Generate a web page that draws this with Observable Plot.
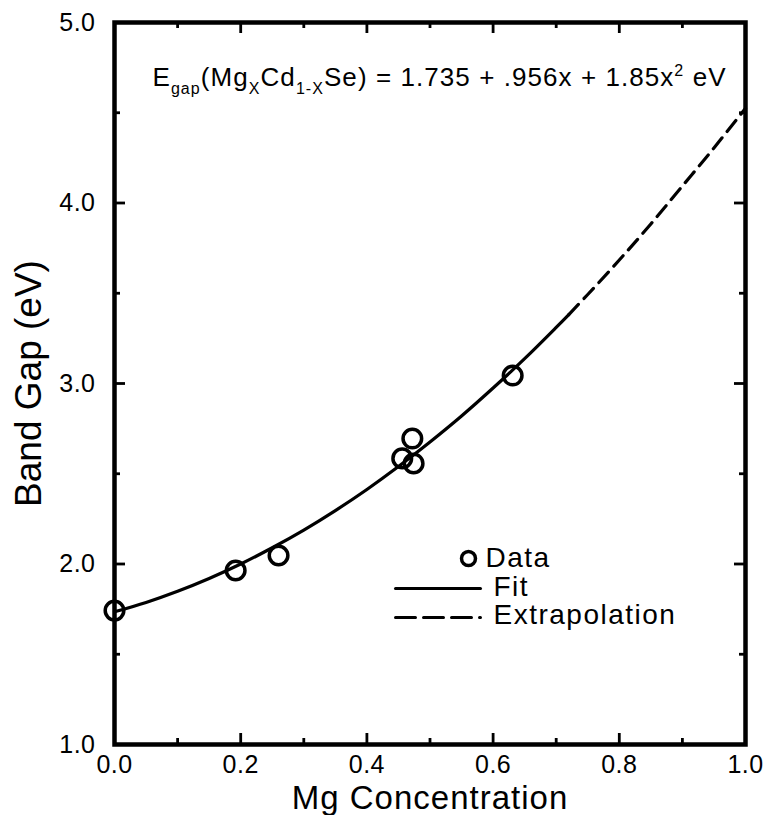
<!DOCTYPE html>
<html>
<head>
<meta charset="utf-8">
<script src="https://cdn.jsdelivr.net/npm/d3@7"></script>
<script src="https://cdn.jsdelivr.net/npm/@observablehq/plot@0.6"></script>
<style>
  html, body { margin: 0; padding: 0; background: #fff; }
</style>
</head>
<body>
<div id="chart"></div>
<script>
// ---- Data ----
const mgConc   = [0.000, 0.192, 0.260, 0.456, 0.472, 0.474, 0.631];
const bandGap  = [1.742, 1.964, 2.047, 2.585, 2.695, 2.557, 3.044];

const fitX = [0.00, 0.05, 0.10, 0.15, 0.20, 0.25, 0.30, 0.35, 0.40, 0.45, 0.50, 0.55, 0.60, 0.65, 0.70, 0.72];
const fitY = [1.735, 1.787, 1.849, 1.920, 2.000, 2.090, 2.188, 2.296, 2.413, 2.540, 2.676, 2.820, 2.975, 3.138, 3.311, 3.382];

const extX = [0.72, 0.75, 0.80, 0.85, 0.90, 0.95, 1.00];
const extY = [3.382, 3.493, 3.684, 3.884, 4.094, 4.305, 4.525];

const xMajor = [0.0, 0.2, 0.4, 0.6, 0.8, 1.0];
const xMinor = [0.1, 0.3, 0.5, 0.7, 0.9];
const yMajor = [1.0, 2.0, 3.0, 4.0, 5.0];
const yMinor = [1.5, 2.5, 3.5, 4.5];

const legendLabels = ["Data", "Fit", "Extrapolation"];
const xLabel = "Mg Concentration";
const yLabel = "Band Gap (eV)";
// equation parts: [text, 0 normal / -1 subscript / 1 superscript]
const eqParts = [["E",0],["gap",-1],["(Mg",0],["X",-1],["Cd",0],["1-X",-1],["Se) = 1.735 + .956x + 1.85x",0],["2",1],[" eV",0]];

// ---- Layout ----
const W = 763, H = 815;
const M = {top: 22, right: 18, bottom: 71, left: 114};
const innerW = W - M.left - M.right;
const innerH = H - M.top - M.bottom;
const font = "'Liberation Sans', Arial, Helvetica, sans-serif";

const dataRows = mgConc.map((x, i) => ({x, y: bandGap[i]}));
const fitRows = fitX.map((x, i) => ({x, y: fitY[i]}));
const extRows = extX.map((x, i) => ({x, y: extY[i]}));
const eqString = eqParts.map(d => d[0]).join("");
const fmt = d3.format(".1f");

const majorLen = 11, minorLen = 6, tickW = 2.8;

const lineShape = {draw(ctx, l) { ctx.moveTo(0, 0); ctx.lineTo(0, -l); }};

const plot = Plot.plot({
  width: W, height: H,
  marginTop: M.top, marginRight: M.right, marginBottom: M.bottom, marginLeft: M.left,
  style: {fontFamily: font, background: "white", color: "black", overflow: "visible"},
  x: {domain: [0, 1], axis: null},
  y: {domain: [1, 5], axis: null},
  marks: [
    // inward ticks, bottom / top
    Plot.ruleX(xMajor, {insetTop: innerH - majorLen, stroke: "black", strokeWidth: tickW}),
    Plot.ruleX(xMajor, {insetBottom: innerH - majorLen, stroke: "black", strokeWidth: tickW}),
    Plot.ruleX(xMinor, {insetTop: innerH - minorLen, stroke: "black", strokeWidth: tickW}),
    Plot.ruleX(xMinor, {insetBottom: innerH - minorLen, stroke: "black", strokeWidth: tickW}),
    // inward ticks, left / right
    Plot.ruleY(yMajor, {insetRight: innerW - majorLen, stroke: "black", strokeWidth: tickW}),
    Plot.ruleY(yMajor, {insetLeft: innerW - majorLen, stroke: "black", strokeWidth: tickW}),
    Plot.ruleY(yMinor, {insetRight: innerW - minorLen, stroke: "black", strokeWidth: tickW}),
    Plot.ruleY(yMinor, {insetLeft: innerW - minorLen, stroke: "black", strokeWidth: tickW}),
    Plot.frame({stroke: "black", strokeWidth: 4.5}),
    // tick labels drawn as text marks through the scales
    Plot.text(xMajor, {x: d => d, frameAnchor: "bottom", dy: 11, text: fmt, lineAnchor: "top", fontSize: 25, textAnchor: "middle"}),
    Plot.text(yMajor, {y: d => d, frameAnchor: "left", dx: -19, text: fmt, lineAnchor: "middle", fontSize: 25, textAnchor: "end"}),
    // fit + extrapolation
    Plot.line(fitRows, {x: "x", y: "y", stroke: "black", strokeWidth: 3.2, curve: "catmull-rom"}),
    Plot.line(extRows, {x: "x", y: "y", stroke: "black", strokeWidth: 3.2, strokeDasharray: "14,8", curve: "catmull-rom"}),
    // data
    Plot.dot(dataRows, {x: "x", y: "y", r: 9.3, stroke: "black", strokeWidth: 3.5, fill: "none"}),
    // equation
    Plot.text([eqString], {frameAnchor: "top-left", dx: 38, dy: 63, textAnchor: "start", lineAnchor: "bottom", fontSize: 26}),
    // legend
    Plot.dot({length: 1}, {frameAnchor: "top-left", dx: 354, dy: 536, r: 7, stroke: "black", strokeWidth: 3.5, fill: "none"}),
    Plot.vector({length: 1}, {frameAnchor: "top-left", dx: 281, dy: 566, length: 85, rotate: 90, anchor: "start", shape: lineShape, stroke: "black", strokeWidth: 3}),
    Plot.vector({length: 1}, {frameAnchor: "top-left", dx: 281, dy: 595, length: 85, rotate: 90, anchor: "start", shape: lineShape, stroke: "black", strokeWidth: 3, strokeDasharray: "20,8"}),
    Plot.text([legendLabels[0]], {frameAnchor: "top-left", dx: 371, dy: 536, textAnchor: "start", lineAnchor: "middle", fontSize: 28}),
    Plot.text([legendLabels[1]], {frameAnchor: "top-left", dx: 379, dy: 565, textAnchor: "start", lineAnchor: "middle", fontSize: 28}),
    Plot.text([legendLabels[2]], {frameAnchor: "top-left", dx: 379, dy: 593, textAnchor: "start", lineAnchor: "middle", fontSize: 28}),
    // axis titles
    Plot.text([xLabel], {frameAnchor: "bottom", dy: 64, textAnchor: "middle", lineAnchor: "bottom", fontSize: 33}),
    Plot.text([yLabel], {frameAnchor: "left", dx: -85, rotate: -90, textAnchor: "middle", lineAnchor: "middle", fontSize: 37})
  ]
});

// tick labels: slight letter spacing
d3.select(plot).selectAll("text").filter(function() { return [...xMajor, ...yMajor].map(fmt).includes(this.textContent); })
  .attr("letter-spacing", "0.5px");

// legend text letter spacing
d3.select(plot).selectAll("text").filter(function() { return legendLabels.includes(this.textContent); })
  .attr("letter-spacing", "1.5px");

// x-axis title letter spacing
d3.select(plot).selectAll("text").filter(function() { return this.textContent === xLabel; })
  .attr("letter-spacing", "1px");

// build the equation with sub/superscripts
d3.select(plot).selectAll("text").filter(function() { return this.textContent === eqString; }).each(function() {
  const t = d3.select(this);
  t.text(null);
  let shift = 0;
  for (const [s, k] of eqParts) {
    const target = k === -1 ? 8 : k === 1 ? -10 : 0;
    const ts = t.append("tspan").text(s).attr("dy", target - shift);
    if (k !== 0) ts.attr("font-size", 16);
    shift = target;
  }
  t.attr("textLength", 573).attr("lengthAdjust", "spacing");
});

document.getElementById("chart").appendChild(plot);
</script>
</body>
</html>
